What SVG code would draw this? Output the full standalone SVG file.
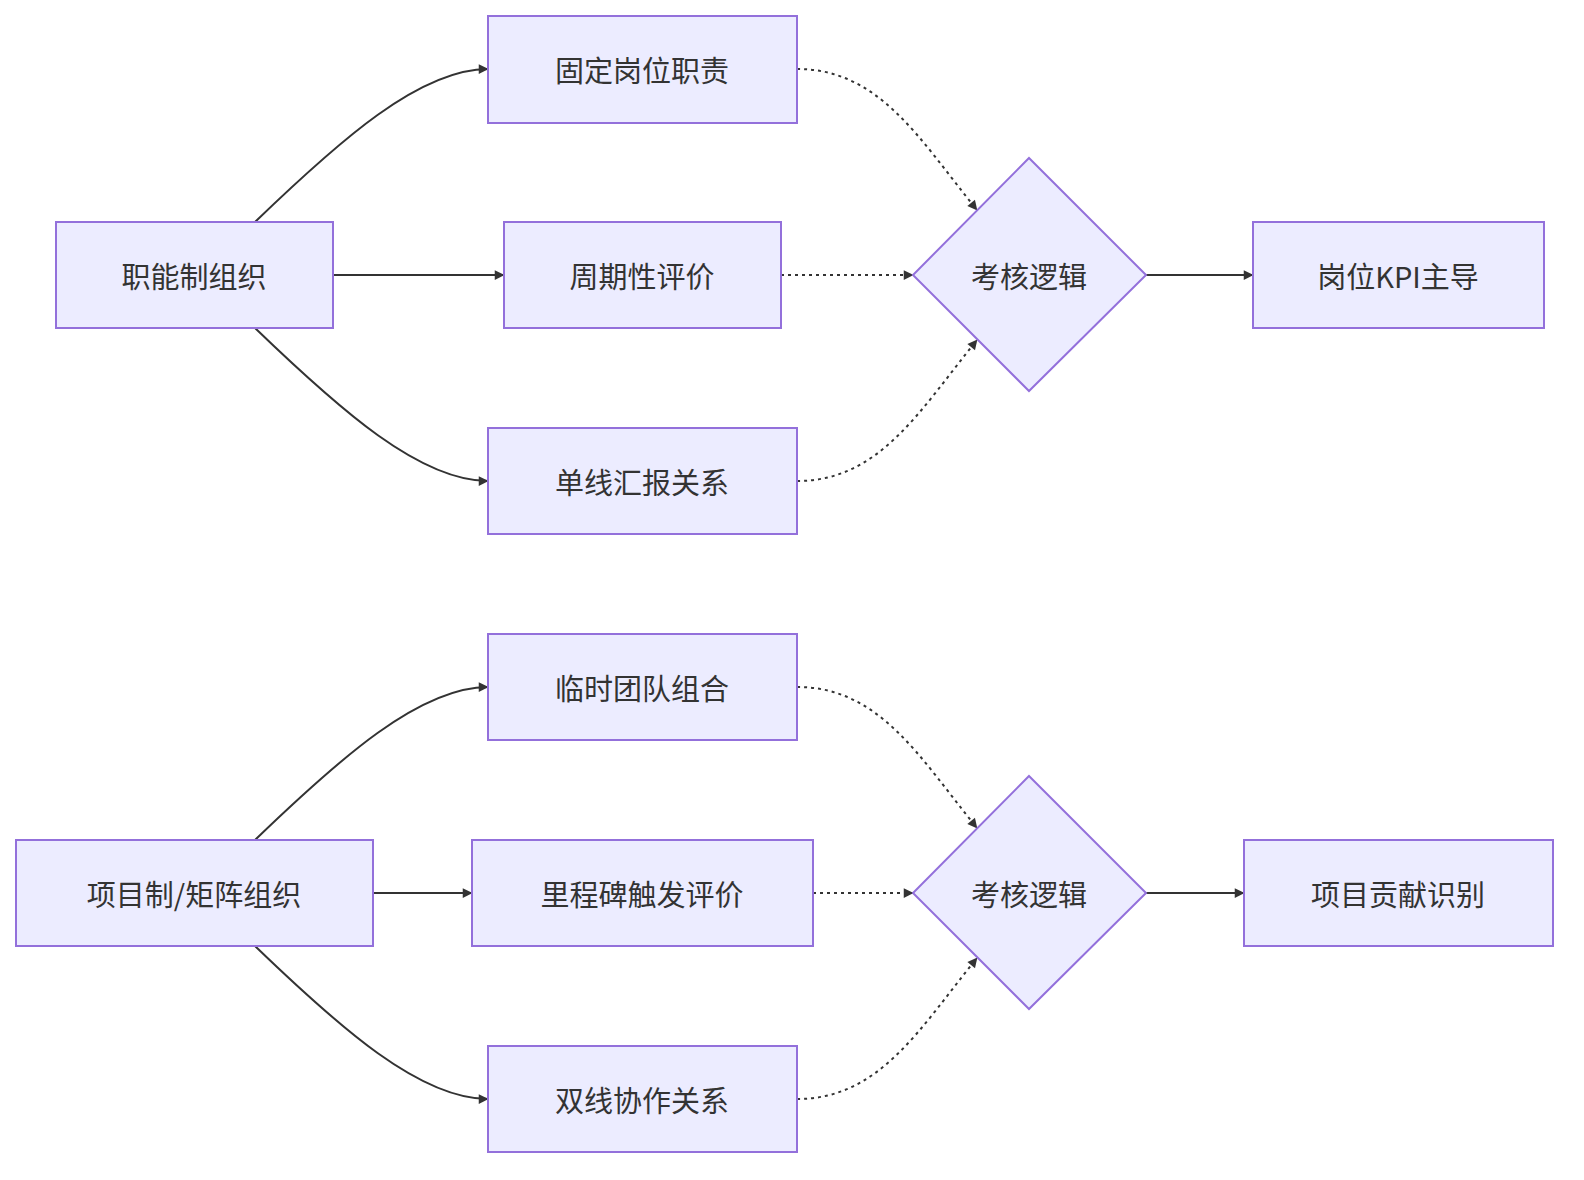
<svg xmlns="http://www.w3.org/2000/svg" width="1584" height="1180" viewBox="0 0 1584 1180">
<style>
.n{fill:#ECECFF;stroke:#9370DB;stroke-width:2}
.t{font-family:"Noto Sans CJK SC","Noto Sans",sans-serif;font-size:29px;fill:#333;text-anchor:middle;dominant-baseline:central}
.e{fill:none;stroke:#333;stroke-width:2}
.d{stroke-dasharray:3,4}
</style>
<defs><marker id="a" viewBox="0 0 10 10" refX="9" refY="5" markerWidth="7" markerHeight="7" orient="auto" markerUnits="userSpaceOnUse" style="overflow:visible"><path d="M0,0L10,5L0,10z" fill="#333" transform="scale(1.4) translate(-3,-1.4)"/></marker></defs>
<rect width="1584" height="1180" fill="#fff"/>
<g id="edges">
<path class="e" marker-end="url(#a)" d="M255,222C340,140 420,69 488,69"/>
<path class="e" marker-end="url(#a)" d="M333,275L504,275"/>
<path class="e" marker-end="url(#a)" d="M255,328C340,410 420,481 488,481"/>
<path class="e d" marker-end="url(#a)" d="M797,69C880,69 920,140 977,210"/>
<path class="e d" marker-end="url(#a)" d="M781,275L913,275"/>
<path class="e d" marker-end="url(#a)" d="M797,481C880,481 920,410 977,340"/>
<path class="e" marker-end="url(#a)" d="M1146,275L1253,275"/>
<path class="e" marker-end="url(#a)" d="M255,840C340,758 420,687 488,687"/>
<path class="e" marker-end="url(#a)" d="M373,893L472,893"/>
<path class="e" marker-end="url(#a)" d="M255,946C340,1028 420,1099 488,1099"/>
<path class="e d" marker-end="url(#a)" d="M797,687C880,687 920,758 977,828"/>
<path class="e d" marker-end="url(#a)" d="M813,893L913,893"/>
<path class="e d" marker-end="url(#a)" d="M797,1099C880,1099 920,1028 977,958"/>
<path class="e" marker-end="url(#a)" d="M1146,893L1244,893"/>
</g>
<g id="A"><rect class="n" x="56" y="222" width="277" height="106"/><text class="t" x="194" y="275">职能制组织</text></g>
<g id="B"><rect class="n" x="488" y="16" width="309" height="107"/><text class="t" x="642" y="69">固定岗位职责</text></g>
<g id="C"><rect class="n" x="504" y="222" width="277" height="106"/><text class="t" x="642" y="275">周期性评价</text></g>
<g id="D"><rect class="n" x="488" y="428" width="309" height="106"/><text class="t" x="642" y="481">单线汇报关系</text></g>
<g id="E"><path class="n" d="M1029,158L1146,275L1029,391L913,275Z"/><text class="t" x="1029" y="275">考核逻辑</text></g>
<g id="F"><rect class="n" x="1253" y="222" width="291" height="106"/><text class="t" x="1398" y="275">岗位KPI主导</text></g>
<g id="G"><rect class="n" x="16" y="840" width="357" height="106"/><text class="t" x="194" y="893">项目制/矩阵组织</text></g>
<g id="H"><rect class="n" x="488" y="634" width="309" height="106"/><text class="t" x="642" y="687">临时团队组合</text></g>
<g id="I"><rect class="n" x="472" y="840" width="341" height="106"/><text class="t" x="642" y="893">里程碑触发评价</text></g>
<g id="J"><rect class="n" x="488" y="1046" width="309" height="106"/><text class="t" x="642" y="1099">双线协作关系</text></g>
<g id="K"><path class="n" d="M1029,776L1146,893L1029,1009L913,893Z"/><text class="t" x="1029" y="893">考核逻辑</text></g>
<g id="L"><rect class="n" x="1244" y="840" width="309" height="106"/><text class="t" x="1398" y="893">项目贡献识别</text></g>
</svg>
